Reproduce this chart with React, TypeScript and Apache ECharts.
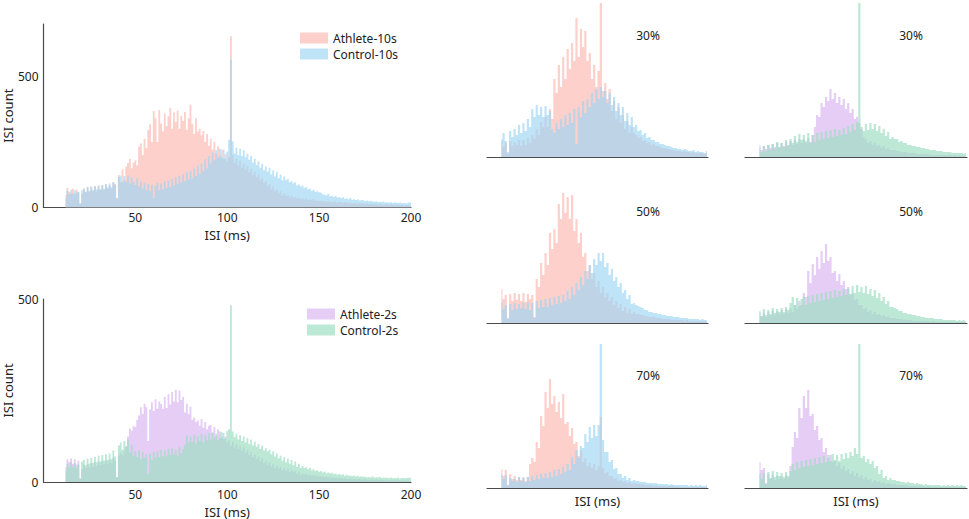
import React, { useEffect, useRef } from "react";
import * as echarts from "echarts";

// ---- bins (ms) ----
const binsMain: number[] = Array.from({ length: 189 }, (_, i) => 12 + i); // 12..200, 1 ms bins
const binsSmall: number[] = Array.from({ length: 94 }, (_, i) => 13 + 2 * i); // 13..199, 2 ms bins

const xTicksMain = [50, 100, 150, 200];
const yTicksMain = [0, 500];
const percentLabels = ["30%", "50%", "70%"];

// ---- main panel, 10 s ----
const athlete10s = [
  48, 74, 60, 52, 72, 50, 68, 58, 14,
  52, 72, 60, 76, 58, 78, 64, 80, 62, 82,
  68, 84, 66, 88, 72, 86, 70, 96, 90, 36,
  124, 98, 146, 104, 156, 170, 186, 150, 172, 180,
  160, 232, 244, 200, 262, 226, 296, 318, 250, 368,
  340, 250, 372, 320, 290, 360, 310, 348, 380, 300,
  362, 326, 370, 300, 350, 330, 364, 296, 340, 392,
  318, 280, 340, 290, 300, 276, 292, 250, 280, 236,
  262, 220, 250, 206, 234, 198, 220, 186, 204, 176,
  192, 653, 200, 170, 186, 160, 178, 152, 168, 146,
  158, 134, 148, 124, 136, 114, 126, 104, 112, 94,
  100, 82, 90, 70, 80, 62, 70, 54, 62, 46,
  54, 44, 48, 38, 45, 36, 40, 34, 38, 32,
  36, 30, 34, 29, 31, 27, 32, 26, 28, 25,
  26, 23, 24, 20, 25, 22, 19, 23, 21, 18,
  21, 19, 17, 20, 18, 16, 19, 15, 17, 16,
  15, 17, 14, 15, 13, 16, 12, 14, 13, 12,
  14, 11, 12, 13, 10, 12, 11, 9, 12, 10,
  10, 11, 9, 10, 12, 8, 9, 10, 8, 9,
];
const control10s = [
  36, 64, 50, 68, 52, 66, 56, 60, 16,
  66, 72, 58, 78, 64, 80, 66, 82, 70, 84,
  70, 86, 72, 90, 76, 92, 78, 96, 86, 34,
  116, 122, 96, 120, 98, 122, 92, 114, 96, 86,
  112, 80, 100, 72, 94, 66, 90, 62, 86, 36,
  82, 94, 66, 92, 70, 98, 74, 102, 78, 108,
  84, 114, 90, 120, 96, 126, 100, 134, 106, 140,
  112, 148, 120, 160, 128, 168, 138, 184, 150, 196,
  168, 210, 180, 218, 190, 224, 192, 220, 186, 214,
  258, 564, 252, 206, 228, 200, 224, 196, 218, 192,
  204, 182, 196, 172, 186, 162, 176, 152, 166, 142,
  156, 136, 152, 126, 142, 118, 136, 112, 126, 104,
  118, 104, 110, 96, 100, 92, 96, 84, 88, 80,
  84, 74, 78, 70, 72, 64, 68, 60, 62, 58,
  56, 50, 48, 46, 52, 42, 45, 40, 44, 38,
  40, 36, 39, 33, 35, 31, 36, 30, 32, 29,
  31, 27, 29, 28, 25, 27, 24, 26, 23, 22,
  24, 21, 22, 20, 23, 19, 20, 18, 21, 17,
  19, 18, 17, 19, 16, 17, 15, 16, 20, 18,
];

// ---- main panel, 2 s ----
const athlete2s = [
  40, 62, 54, 64, 50, 62, 48, 58, 10,
  34, 48, 38, 50, 40, 52, 42, 54, 44, 56,
  46, 58, 48, 60, 50, 62, 52, 66, 58, 12,
  72, 80, 74, 84, 98, 124, 146, 140, 152, 150,
  170, 182, 204, 186, 214, 204, 112, 198, 218, 194,
  226, 200, 220, 214, 200, 232, 202, 240, 212, 246,
  220, 252, 218, 250, 224, 232, 190, 214, 186, 206,
  170, 176, 164, 168, 154, 172, 148, 164, 144, 154,
  156, 134, 150, 126, 144, 120, 136, 118, 124, 108,
  114, 100, 110, 94, 104, 90, 98, 86, 94, 80,
  88, 74, 82, 68, 76, 62, 70, 56, 64, 52,
  58, 46, 54, 42, 50, 38, 46, 36, 42, 32,
  38, 30, 36, 28, 32, 26, 30, 22, 28, 20,
  24, 21, 22, 18, 21, 17, 19, 16, 18, 15,
  16, 15, 14, 15, 12, 13, 12, 11, 12, 10,
  11, 10, 9, 10, 8, 9, 9, 7, 8, 7,
  8, 7, 6, 7, 7, 6, 5, 6, 6, 5,
  6, 5, 5, 6, 4, 5, 5, 4, 5, 4,
  4, 5, 4, 3, 4, 4, 3, 4, 3, 4,
];
const control2s = [
  30, 50, 40, 54, 42, 52, 38, 48, 8,
  56, 60, 46, 64, 50, 66, 52, 68, 54, 72,
  56, 74, 58, 76, 60, 78, 62, 86, 70, 14,
  100, 108, 88, 112, 96, 116, 80, 102, 72, 84,
  68, 86, 62, 82, 66, 76, 22, 78, 60, 82,
  66, 84, 68, 88, 70, 86, 72, 90, 74, 92,
  76, 88, 72, 96, 78, 90, 102, 128, 108, 124,
  110, 130, 106, 126, 112, 132, 108, 128, 114, 134,
  116, 136, 120, 132, 114, 138, 122, 134, 118, 140,
  144, 483, 138, 122, 132, 116, 128, 112, 124, 108,
  120, 104, 116, 100, 110, 96, 104, 90, 100, 86,
  92, 84, 88, 76, 84, 70, 78, 64, 72, 58,
  68, 54, 64, 50, 60, 46, 56, 42, 50, 38,
  44, 38, 40, 35, 38, 32, 35, 30, 32, 28,
  30, 26, 29, 24, 26, 23, 25, 21, 23, 20,
  22, 19, 21, 17, 20, 17, 18, 16, 18, 15,
  17, 14, 16, 14, 15, 13, 14, 12, 15, 12,
  13, 12, 14, 11, 12, 11, 12, 10, 12, 10,
  11, 10, 12, 9, 11, 10, 10, 11, 12, 11,
];

// ---- small panels (relative heights, unlabeled y) ----
const athlete10s30 = [
  16, 10, 14, 3, 16, 11, 15, 12, 17, 11,
  17, 12, 19, 14, 22, 18, 28, 22, 35, 30,
  40, 30, 48, 38, 78, 64, 92, 70, 100, 78,
  108, 88, 114, 96, 139, 100, 128, 110, 126, 96,
  104, 78, 92, 70, 86, 154, 66, 74, 58, 68,
  46, 56, 38, 50, 34, 42, 28, 36, 24, 30,
  24, 22, 19, 20, 16, 17, 14, 15, 12, 13,
  11, 11, 10, 9, 9, 8, 8, 7, 7, 6,
  6, 6, 5, 6, 5, 5, 4, 5, 4, 4,
  4, 4, 3, 4,
];
const control10s30 = [
  18, 24, 16, 5, 26, 20, 28, 22, 32, 24,
  34, 26, 38, 30, 48, 40, 52, 42, 50, 40,
  51, 42, 46, 28, 24, 34, 28, 38, 30, 42,
  32, 44, 34, 48, 13, 50, 40, 56, 44, 58,
  50, 64, 54, 68, 58, 70, 60, 66, 54, 64,
  52, 60, 46, 54, 42, 50, 36, 44, 32, 40,
  30, 32, 26, 27, 22, 24, 19, 20, 17, 17,
  15, 15, 13, 13, 12, 11, 11, 10, 9, 9,
  8, 8, 7, 8, 7, 6, 6, 7, 5, 6,
  5, 5, 4, 6,
];
const athlete2s30 = [
  12, 7, 11, 8, 12, 9, 13, 10, 14, 10,
  14, 11, 15, 11, 16, 12, 17, 13, 18, 14,
  18, 14, 19, 15, 22, 30, 42, 40, 54, 50,
  60, 56, 68, 58, 64, 54, 60, 52, 58, 48,
  54, 44, 48, 38, 40, 34, 28, 20, 18, 14,
  16, 12, 14, 11, 12, 9, 11, 8, 9, 7,
  7, 7, 6, 6, 5, 5, 5, 4, 4, 4,
  4, 3, 3, 3, 3, 3, 3, 2, 2, 2,
  2, 2, 2, 2, 2, 2, 2, 1, 2, 1,
  2, 1, 1, 1,
];
const control2s30 = [
  9, 5, 11, 6, 12, 7, 13, 8, 15, 10,
  14, 10, 17, 12, 18, 14, 21, 15, 23, 17,
  22, 16, 24, 14, 22, 15, 24, 17, 25, 18,
  26, 19, 27, 20, 28, 21, 27, 22, 29, 23,
  31, 25, 33, 27, 35, 154, 30, 26, 33, 27,
  34, 28, 33, 26, 31, 24, 28, 21, 25, 18,
  20, 18, 18, 15, 16, 14, 14, 12, 12, 11,
  11, 10, 10, 9, 9, 8, 8, 7, 7, 7,
  6, 6, 6, 5, 5, 5, 5, 4, 4, 4,
  4, 4, 3, 4,
];
const athlete10s50 = [
  34, 24, 28, 4, 29, 22, 30, 23, 29, 22,
  30, 21, 29, 24, 28, 6, 44, 36, 60, 48,
  70, 58, 90, 74, 94, 80, 119, 104, 130, 110,
  126, 104, 128, 92, 104, 80, 90, 66, 70, 52,
  58, 44, 50, 36, 42, 30, 36, 26, 30, 22,
  26, 18, 22, 15, 19, 12, 16, 10, 14, 9,
  11, 9, 9, 8, 8, 7, 7, 6, 6, 6,
  5, 5, 5, 4, 4, 4, 4, 3, 3, 3,
  3, 3, 3, 2, 3, 2, 2, 2, 2, 2,
  2, 2, 2, 1,
];
const control10s50 = [
  21, 14, 18, 5, 19, 13, 20, 14, 19, 15,
  20, 14, 21, 13, 20, 5, 22, 15, 23, 16,
  24, 16, 25, 18, 26, 19, 27, 20, 28, 22,
  32, 24, 36, 28, 40, 33, 46, 38, 52, 44,
  58, 50, 64, 58, 70, 62, 70, 56, 60, 48,
  54, 42, 46, 36, 40, 30, 33, 24, 28, 19,
  20, 18, 17, 16, 15, 13, 13, 11, 11, 10,
  10, 9, 9, 8, 8, 7, 7, 7, 6, 6,
  6, 5, 5, 5, 5, 4, 4, 4, 4, 4,
  3, 4, 3, 3,
];
const athlete2s50 = [
  11, 7, 10, 6, 11, 8, 12, 8, 12, 9,
  13, 9, 14, 10, 15, 11, 18, 14, 22, 18,
  30, 26, 52, 40, 59, 48, 66, 54, 72, 60,
  79, 62, 66, 50, 52, 42, 49, 38, 42, 34,
  36, 28, 30, 23, 24, 18, 18, 14, 15, 11,
  13, 9, 11, 8, 9, 7, 8, 6, 7, 5,
  5, 5, 4, 4, 4, 3, 3, 3, 3, 2,
  2, 2, 2, 2, 2, 2, 2, 1, 2, 1,
  1, 1, 1, 1, 1, 1, 1, 1, 1, 1,
  1, 1, 1, 1,
];
const control2s50 = [
  12, 7, 14, 8, 13, 9, 15, 10, 14, 11,
  15, 11, 16, 13, 20, 26, 18, 25, 17, 24,
  26, 18, 27, 20, 28, 21, 29, 22, 30, 23,
  31, 24, 32, 25, 33, 26, 32, 27, 34, 28,
  34, 29, 37, 30, 38, 31, 36, 30, 37, 29,
  34, 27, 33, 25, 30, 22, 26, 19, 22, 16,
  16, 15, 14, 12, 12, 10, 10, 9, 9, 8,
  8, 7, 7, 6, 6, 5, 5, 5, 5, 4,
  4, 4, 4, 3, 3, 3, 3, 3, 3, 2,
  3, 2, 3, 2,
];
const athlete10s70 = [
  19, 12, 18, 3, 14, 9, 12, 8, 11, 8,
  11, 7, 11, 24, 30, 26, 46, 40, 72, 62,
  96, 80, 109, 84, 92, 76, 86, 70, 94, 64,
  66, 52, 60, 44, 46, 32, 38, 26, 30, 22,
  25, 20, 24, 18, 22, 71, 20, 15, 16, 12,
  12, 9, 10, 7, 8, 6, 7, 5, 6, 4,
  5, 4, 4, 4, 4, 3, 3, 3, 3, 2,
  3, 2, 2, 2, 2, 2, 2, 2, 2, 1,
  2, 1, 1, 1, 1, 1, 1, 1, 1, 1,
  1, 1, 1, 1,
];
const control10s70 = [
  14, 9, 13, 3, 10, 7, 9, 6, 11, 7,
  10, 6, 11, 7, 12, 8, 13, 9, 14, 10,
  15, 10, 16, 11, 18, 12, 19, 14, 21, 16,
  24, 18, 31, 24, 38, 30, 42, 40, 54, 46,
  61, 50, 63, 52, 63, 144, 48, 36, 36, 26,
  28, 19, 20, 14, 14, 10, 12, 8, 10, 7,
  8, 7, 7, 6, 6, 6, 5, 5, 5, 5,
  5, 4, 4, 4, 4, 4, 3, 4, 3, 3,
  3, 3, 3, 3, 3, 2, 3, 2, 3, 2,
  3, 2, 2, 3,
];
const athlete2s70 = [
  26, 18, 20, 5, 14, 9, 13, 8, 12, 9,
  12, 9, 13, 10, 22, 41, 56, 50, 80, 70,
  92, 80, 98, 72, 74, 58, 62, 48, 50, 36,
  40, 30, 33, 26, 27, 22, 25, 19, 22, 17,
  19, 14, 17, 12, 15, 11, 13, 9, 11, 8,
  9, 6, 8, 6, 7, 5, 6, 4, 5, 4,
  4, 4, 3, 3, 3, 3, 3, 2, 2, 2,
  2, 2, 2, 2, 2, 1, 2, 1, 1, 1,
  1, 1, 1, 1, 1, 1, 1, 1, 1, 1,
  1, 1, 1, 1,
];
const control2s70 = [
  14, 9, 15, 4, 16, 10, 17, 11, 16, 12,
  15, 11, 16, 12, 17, 24, 18, 26, 20, 27,
  21, 28, 22, 29, 23, 30, 24, 31, 25, 32,
  26, 33, 27, 34, 28, 33, 27, 34, 29, 35,
  30, 36, 32, 40, 34, 144, 30, 32, 26, 29,
  24, 27, 20, 22, 14, 18, 10, 12, 8, 10,
  8, 8, 7, 7, 6, 6, 5, 6, 5, 5,
  4, 5, 4, 4, 3, 4, 3, 3, 3, 3,
  3, 3, 2, 3, 2, 3, 2, 3, 2, 3,
  2, 3, 2, 2,
];

const PINK = "#fdd0cc";
const BLUE = "rgba(158,213,243,0.66)";
const BLUE_SOLID = "#bfe3f7";
const PURPLE = "#e5cdf5";
const GREEN = "rgba(160,222,195,0.7)";
const GREEN_SOLID = "#bce9d5";
const FONT = "Noto Sans";
const AXIS_COLOR = "#4a4a4a";
const TEXT = "#222";

function histSeries(name: string, bins: number[], vals: number[], idx: number, color: string, solid: string, z: number) {
  return {
    name,
    type: "line",
    step: "middle",
    xAxisIndex: idx,
    yAxisIndex: idx,
    data: bins.map((b, i) => [b, vals[i]]),
    showSymbol: false,
    symbol: "none",
    lineStyle: { width: 0, opacity: 0 },
    itemStyle: { color: solid },
    areaStyle: { color, opacity: 1 },
    z,
    silent: true,
  };
}

export default function App() {
  const ref = useRef<HTMLDivElement>(null);
  useEffect(() => {
    if (!ref.current) return;
    const chart = echarts.init(ref.current, undefined, { renderer: "svg" });

    const grids = [
      { left: 43, top: 24, width: 368, height: 183.5 },
      { left: 43, top: 299, width: 368, height: 183.3 },
      { left: 487, top: 0, width: 221, height: 157 },
      { left: 745, top: 0, width: 222, height: 157 },
      { left: 487, top: 166, width: 221, height: 157 },
      { left: 745, top: 166, width: 222, height: 157 },
      { left: 487, top: 331, width: 221, height: 157 },
      { left: 745, top: 331, width: 222, height: 157 },
    ];

    const mainX = (gi: number, gap: number, margin: number) => ({
      type: "value",
      gridIndex: gi,
      min: 0,
      max: 200,
      interval: 50,
      axisLine: { show: true, lineStyle: { color: AXIS_COLOR, width: 1.2 } },
      axisTick: { show: false },
      splitLine: { show: false },
      axisLabel: {
        margin,
        fontFamily: FONT,
        fontSize: 12,
        lineHeight: 12,
        color: TEXT,
        formatter: (v: number) => (xTicksMain.includes(v) ? String(v) : ""),
      },
      name: "ISI (ms)",
      nameLocation: "middle",
      nameGap: gap,
      nameTextStyle: { fontFamily: FONT, fontSize: 13, lineHeight: 13, color: TEXT },
    });
    const mainY = (gi: number, max: number) => ({
      type: "value",
      gridIndex: gi,
      min: 0,
      max,
      interval: 500,
      axisLine: { show: true, lineStyle: { color: AXIS_COLOR, width: 1.2 } },
      axisTick: { show: false },
      splitLine: { show: false },
      axisLabel: {
        margin: 5,
        fontFamily: FONT,
        fontSize: 12,
        color: TEXT,
        formatter: (v: number) => (yTicksMain.includes(v) ? String(v) : ""),
      },
      name: "ISI count",
      nameLocation: "middle",
      nameGap: 24,
      nameRotate: 90,
      nameTextStyle: { fontFamily: FONT, fontSize: 13, color: TEXT },
    });
    const smallX = (gi: number, withName: boolean) => ({
      type: "value",
      gridIndex: gi,
      min: 0,
      max: 200,
      axisLine: { show: true, lineStyle: { color: AXIS_COLOR, width: 1.2 } },
      axisTick: { show: false },
      axisLabel: { show: false },
      splitLine: { show: false },
      name: withName ? "ISI (ms)" : "",
      nameLocation: "middle",
      nameGap: 6,
      nameTextStyle: { fontFamily: FONT, fontSize: 13, color: TEXT, verticalAlign: "top" },
    });
    const smallY = (gi: number, max: number) => ({
      type: "value",
      gridIndex: gi,
      min: 0,
      max,
      show: false,
      splitLine: { show: false },
    });

    const xAxis = [
      mainX(0, 21, 4),
      mainX(1, 23, 6),
      smallX(2, false),
      smallX(3, false),
      smallX(4, false),
      smallX(5, false),
      smallX(6, true),
      smallX(7, true),
    ];
    const yAxis = [
      mainY(0, 700),
      mainY(1, 500),
      smallY(2, 157),
      smallY(3, 157),
      smallY(4, 157),
      smallY(5, 157),
      smallY(6, 157),
      smallY(7, 157),
    ];

    const series = [
      histSeries("Athlete-10s", binsMain, athlete10s, 0, PINK, PINK, 2),
      histSeries("Control-10s", binsMain, control10s, 0, BLUE, BLUE_SOLID, 3),
      histSeries("Athlete-2s", binsMain, athlete2s, 1, PURPLE, PURPLE, 2),
      histSeries("Control-2s", binsMain, control2s, 1, GREEN, GREEN_SOLID, 3),
      histSeries("Athlete-10s 30%", binsSmall, athlete10s30, 2, PINK, PINK, 2),
      histSeries("Control-10s 30%", binsSmall, control10s30, 2, BLUE, BLUE_SOLID, 3),
      histSeries("Athlete-2s 30%", binsSmall, athlete2s30, 3, PURPLE, PURPLE, 2),
      histSeries("Control-2s 30%", binsSmall, control2s30, 3, GREEN, GREEN_SOLID, 3),
      histSeries("Athlete-10s 50%", binsSmall, athlete10s50, 4, PINK, PINK, 2),
      histSeries("Control-10s 50%", binsSmall, control10s50, 4, BLUE, BLUE_SOLID, 3),
      histSeries("Athlete-2s 50%", binsSmall, athlete2s50, 5, PURPLE, PURPLE, 2),
      histSeries("Control-2s 50%", binsSmall, control2s50, 5, GREEN, GREEN_SOLID, 3),
      histSeries("Athlete-10s 70%", binsSmall, athlete10s70, 6, PINK, PINK, 2),
      histSeries("Control-10s 70%", binsSmall, control10s70, 6, BLUE, BLUE_SOLID, 3),
      histSeries("Athlete-2s 70%", binsSmall, athlete2s70, 7, PURPLE, PURPLE, 2),
      histSeries("Control-2s 70%", binsSmall, control2s70, 7, GREEN, GREEN_SOLID, 3),
    ];

    const legendCommon = {
      orient: "vertical",
      icon: "rect",
      itemWidth: 28,
      itemHeight: 11,
      itemGap: 4,
      selectedMode: false,
      textStyle: { fontFamily: FONT, fontSize: 12, lineHeight: 11, color: TEXT },
      padding: 0,
    };

    const pctPos = [
      [648, 35], [911, 35],
      [648, 211], [911, 211],
      [648, 375], [911, 375],
    ];
    const graphics = pctPos.map((p, i) => ({
      type: "text",
      x: p[0],
      y: p[1],
      style: {
        text: percentLabels[Math.floor(i / 2)],
        font: `12px "${FONT}"`,
        fill: TEXT,
        align: "center",
        verticalAlign: "middle",
      },
      silent: true,
    }));

    chart.setOption({
      animation: false,
      grid: grids,
      xAxis,
      yAxis,
      series,
      legend: [
        {
          ...legendCommon,
          left: 300,
          top: 32,
          data: [
            { name: "Athlete-10s", itemStyle: { color: PINK } },
            { name: "Control-10s", itemStyle: { color: BLUE_SOLID } },
          ],
        },
        {
          ...legendCommon,
          left: 307,
          top: 308,
          data: [
            { name: "Athlete-2s", itemStyle: { color: PURPLE } },
            { name: "Control-2s", itemStyle: { color: GREEN_SOLID } },
          ],
        },
      ],
      graphic: graphics,
    });

    return () => chart.dispose();
  }, []);

  return (
    <div
      ref={ref}
      style={{ position: "absolute", left: 0, top: 0, width: 969, height: 519 }}
    />
  );
}
